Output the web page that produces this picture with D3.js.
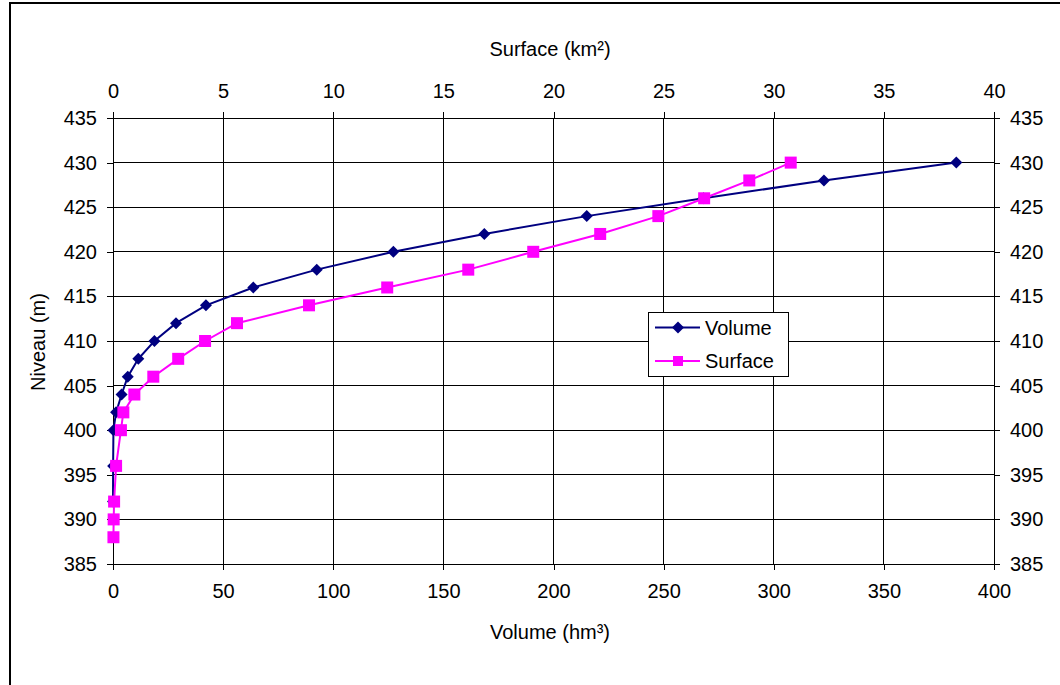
<!DOCTYPE html>
<html>
<head>
<meta charset="utf-8">
<script src="https://cdn.jsdelivr.net/npm/d3@7"></script>
<style>
  body { margin: 0; background: #fff; }
  svg text { font-family: "Liberation Sans", Arial, sans-serif; font-size: 20px; fill: #000; }
</style>
</head>
<body>
<svg id="chart" width="1060" height="685"></svg>
<script>
// level (m) for each series
let surfaceLevels = [388, 390, 392, 396, 400, 402, 404, 406, 408, 410, 412, 414, 416, 418, 420, 422, 424, 426, 428, 430];
let surfaceValues = [0.02, 0.03, 0.05, 0.14, 0.36, 0.47, 0.97, 1.83, 2.96, 4.18, 5.63, 8.9, 12.45, 16.13, 19.08, 22.12, 24.76, 26.84, 28.89, 30.77];

let volumeLevels = [392, 396, 400, 402, 404, 406, 408, 410, 412, 414, 416, 418, 420, 422, 424, 426, 428, 430];
let volumeValues = [0, 0.05, 0.2, 1.4, 3.9, 6.7, 11.5, 18.8, 28.6, 42.2, 63.7, 92.5, 127.3, 168.6, 215.1, 268.1, 322.8, 382.9];

let levelTicks = [385, 390, 395, 400, 405, 410, 415, 420, 425, 430, 435];
let volumeTicks = [0, 50, 100, 150, 200, 250, 300, 350, 400];
let surfaceTicks = [0, 5, 10, 15, 20, 25, 30, 35, 40];

let svg = d3.select("#chart");

// chart frame
svg.append("rect")
    .attr("x", 10).attr("y", 3)
    .attr("width", 1100).attr("height", 800)
    .attr("fill", "#fff")
    .attr("stroke", "#000")
    .attr("stroke-width", 2);

let plotLeft = 113, plotRight = 994, plotTop = 118, plotBottom = 564;

let x = d3.scaleLinear().domain([0, 400]).range([plotLeft, plotRight]);
let x2 = d3.scaleLinear().domain([0, 40]).range([plotLeft, plotRight]);
let y = d3.scaleLinear().domain([385, 435]).range([plotBottom, plotTop]);

// grid
let grid = svg.append("g").attr("shape-rendering", "crispEdges");
grid.selectAll(".h").data(levelTicks).join("line")
    .attr("x1", plotLeft).attr("x2", plotRight)
    .attr("y1", d => y(d)).attr("y2", d => y(d))
    .attr("stroke", "#000");
grid.selectAll(".v").data(volumeTicks).join("line")
    .attr("x1", d => x(d)).attr("x2", d => x(d))
    .attr("y1", plotTop).attr("y2", plotBottom)
    .attr("stroke", "#000");

// axes
let axisL = svg.append("g").attr("transform", `translate(${plotLeft},0)`)
    .call(d3.axisLeft(y).tickValues(levelTicks).tickSize(6).tickPadding(10));
let axisR = svg.append("g").attr("transform", `translate(${plotRight},0)`)
    .call(d3.axisRight(y).tickValues(levelTicks).tickSize(6).tickPadding(10));
let axisB = svg.append("g").attr("transform", `translate(0,${plotBottom})`)
    .call(d3.axisBottom(x).tickValues(volumeTicks).tickSize(6).tickPadding(14));
let axisT = svg.append("g").attr("transform", `translate(0,${plotTop})`)
    .call(d3.axisTop(x2).tickValues(surfaceTicks).tickSize(6).tickPadding(14));

[axisL, axisR, axisB, axisT].forEach(a => {
    a.attr("font-size", null).attr("font-family", null).attr("shape-rendering", "crispEdges");
    a.selectAll("path, line").attr("stroke", "#000");
    a.selectAll("text").attr("fill", "#000");
});

// axis titles
svg.append("text").attr("x", 550).attr("y", 56).attr("text-anchor", "middle").text("Surface (km²)");
svg.append("text").attr("x", 550).attr("y", 639).attr("text-anchor", "middle").text("Volume (hm³)");
svg.append("text")
    .attr("transform", "translate(45,342) rotate(-90)")
    .attr("text-anchor", "middle")
    .text("Niveau (m)");

// series
let volumeData = volumeLevels.map((l, i) => [volumeValues[i], l]);
let surfaceData = surfaceLevels.map((l, i) => [surfaceValues[i], l]);

let diamond = "M0,-6L6,0L0,6L-6,0Z";

svg.append("path")
    .datum(volumeData)
    .attr("fill", "none")
    .attr("stroke", "#000080")
    .attr("stroke-width", 2)
    .attr("d", d3.line().x(d => x(d[0])).y(d => y(d[1])));
svg.append("g").selectAll("path").data(volumeData).join("path")
    .attr("transform", d => `translate(${x(d[0])},${y(d[1])})`)
    .attr("d", diamond)
    .attr("fill", "#000080");

svg.append("path")
    .datum(surfaceData)
    .attr("fill", "none")
    .attr("stroke", "#ff00ff")
    .attr("stroke-width", 2)
    .attr("d", d3.line().x(d => x2(d[0])).y(d => y(d[1])));
svg.append("g").selectAll("rect").data(surfaceData).join("rect")
    .attr("x", d => x2(d[0]) - 6)
    .attr("y", d => y(d[1]) - 6)
    .attr("width", 12).attr("height", 12)
    .attr("fill", "#ff00ff");

// legend
let legend = svg.append("g").attr("transform", "translate(648,312)");
legend.append("rect")
    .attr("x", 0.5).attr("y", 0.5)
    .attr("width", 140).attr("height", 64)
    .attr("fill", "#fff").attr("stroke", "#000");

let items = [
    { name: "Volume", color: "#000080", marker: "diamond" },
    { name: "Surface", color: "#ff00ff", marker: "square" }
];
items.forEach((it, i) => {
    let cy = 15.5 + i * 33.5;
    legend.append("line")
        .attr("x1", 7).attr("x2", 52).attr("y1", cy).attr("y2", cy)
        .attr("stroke", it.color).attr("stroke-width", 2);
    if (it.marker === "diamond") {
        legend.append("path").attr("transform", `translate(30,${cy})`).attr("d", diamond).attr("fill", it.color);
    } else {
        legend.append("rect").attr("x", 25).attr("y", cy - 5).attr("width", 10).attr("height", 10).attr("fill", it.color);
    }
    legend.append("text").attr("x", 57).attr("y", cy + 7).text(it.name);
});
</script>
</body>
</html>
